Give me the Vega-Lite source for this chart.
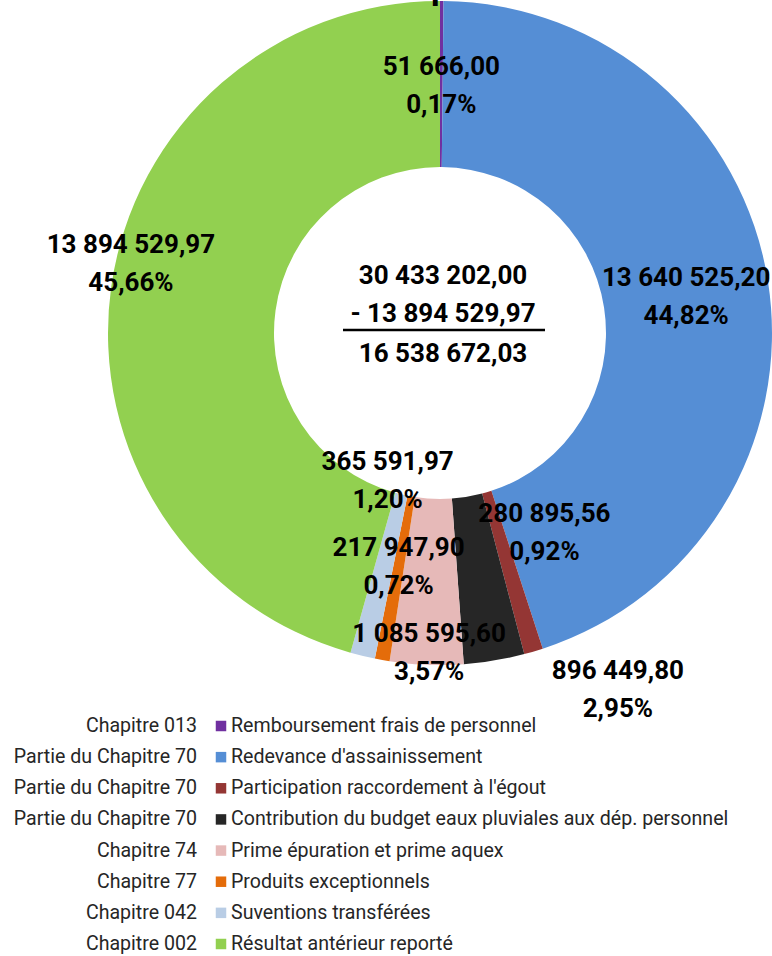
{
  "$schema": "https://vega.github.io/schema/vega-lite/v6.json",
  "width": 772,
  "height": 956,
  "autosize": "none",
  "padding": 0,
  "config": {"view": {"stroke": null}, "font": "Roboto"},
  "datasets": {
    "slices": [
      {"order": 1, "chapter": "Chapitre 013", "category": "Remboursement frais de  personnel", "value": 51666.00, "amount": "51 666,00", "pct": "0,17%"},
      {"order": 2, "chapter": "Partie du Chapitre 70", "category": "Redevance d'assainissement", "value": 13640525.20, "amount": "13 640 525,20", "pct": "44,82%"},
      {"order": 3, "chapter": "Partie du Chapitre 70", "category": "Participation raccordement à l'égout", "value": 280895.56, "amount": "280 895,56", "pct": "0,92%"},
      {"order": 4, "chapter": "Partie du Chapitre 70", "category": "Contribution du budget eaux pluviales aux dép. personnel", "value": 896449.80, "amount": "896 449,80", "pct": "2,95%"},
      {"order": 5, "chapter": "Chapitre 74", "category": "Prime épuration et prime aquex", "value": 1085595.60, "amount": "1 085 595,60", "pct": "3,57%"},
      {"order": 6, "chapter": "Chapitre 77", "category": "Produits exceptionnels", "value": 217947.90, "amount": "217 947,90", "pct": "0,72%"},
      {"order": 7, "chapter": "Chapitre 042", "category": "Suventions transférées", "value": 365591.97, "amount": "365 591,97", "pct": "1,20%"},
      {"order": 8, "chapter": "Chapitre 002", "category": "Résultat antérieur reporté", "value": 13894529.97, "amount": "13 894 529,97", "pct": "45,66%"}
    ],
    "notes": [
      {"title": "Recettes d'exploitation", "total": "30 433 202,00", "minus": "- 13 894 529,97", "result": "16 538 672,03"}
    ]
  },
  "resolve": {"scale": {"y": "independent"}},
  "layer": [
    {
      "encoding": {
        "x": {"datum": 440, "type": "quantitative", "scale": {"domain": [0, 772], "nice": false, "zero": false}, "axis": null},
        "y": {"datum": 333, "type": "quantitative", "scale": {"domain": [0, 956], "reverse": true, "nice": false, "zero": false}, "axis": null}
      },
      "layer": [
        {
          "data": {"name": "slices"},
          "transform": [
            {"stack": "value", "groupby": [], "sort": [{"field": "order", "order": "ascending"}], "as": ["v0", "v1"]}
          ],
          "mark": {"type": "arc", "outerRadius": 332, "innerRadius": 166},
          "encoding": {
            "theta": {"field": "v0", "type": "quantitative", "scale": {"domain": [0, 30433202]}},
            "theta2": {"field": "v1"},
            "color": {
              "field": "category", "type": "nominal",
              "scale": {
                "domain": ["Remboursement frais de  personnel", "Redevance d'assainissement", "Participation raccordement à l'égout", "Contribution du budget eaux pluviales aux dép. personnel", "Prime épuration et prime aquex", "Produits exceptionnels", "Suventions transférées", "Résultat antérieur reporté"],
                "range": ["#7030A0", "#558ED5", "#943634", "#262626", "#E6B9B8", "#E46C0A", "#B9CDE5", "#92D050"]
              },
              "legend": null
            }
          }
        },
        {
          "data": {"name": "slices"},
          "transform": [
            {"stack": "value", "groupby": [], "sort": [{"field": "order", "order": "ascending"}], "as": ["v0", "v1"]},
            {"calculate": "(datum.v0 + datum.v1) / 2", "as": "mid"},
            {"calculate": "datum.amount + '\\n' + datum.pct", "as": "lbl"},
            {"filter": "datum.order <= 2"}
          ],
          "mark": {"type": "text", "radius": 249, "dy": -17, "fontSize": 26, "fontWeight": "bold", "lineBreak": "\n", "lineHeight": 38, "align": "center", "baseline": "middle", "color": "#000"},
          "encoding": {"theta": {"field": "mid", "type": "quantitative"}, "text": {"field": "lbl"}}
        },
        {
          "data": {"name": "slices"},
          "transform": [
            {"stack": "value", "groupby": [], "sort": [{"field": "order", "order": "ascending"}], "as": ["v0", "v1"]},
            {"calculate": "(datum.v0 + datum.v1) / 2", "as": "mid"},
            {"calculate": "datum.amount + '\\n' + datum.pct", "as": "lbl"},
            {"filter": "datum.order == 8"}
          ],
          "mark": {"type": "text", "radius": 317, "dx": 5, "dy": -45, "fontSize": 26, "fontWeight": "bold", "lineBreak": "\n", "lineHeight": 38, "align": "center", "baseline": "middle", "color": "#000"},
          "encoding": {"theta": {"field": "mid", "type": "quantitative"}, "text": {"field": "lbl"}}
        },
        {
          "data": {"name": "slices"},
          "transform": [
            {"stack": "value", "groupby": [], "sort": [{"field": "order", "order": "ascending"}], "as": ["v0", "v1"]},
            {"calculate": "(datum.v0 + datum.v1) / 2", "as": "mid"},
            {"calculate": "datum.amount + '\\n' + datum.pct", "as": "lbl"},
            {"filter": "datum.order == 5"}
          ],
          "mark": {"type": "text", "radius": 318, "dx": 2, "dy": -17, "fontSize": 26, "fontWeight": "bold", "lineBreak": "\n", "lineHeight": 38, "align": "center", "baseline": "middle", "color": "#000"},
          "encoding": {"theta": {"field": "mid", "type": "quantitative"}, "text": {"field": "lbl"}}
        },
        {
          "data": {"name": "slices"},
          "transform": [
            {"stack": "value", "groupby": [], "sort": [{"field": "order", "order": "ascending"}], "as": ["v0", "v1"]},
            {"calculate": "(datum.v0 + datum.v1) / 2", "as": "mid"},
            {"calculate": "datum.amount + '\\n' + datum.pct", "as": "lbl"},
            {"filter": "datum.order == 3"}
          ],
          "mark": {"type": "text", "radius": 225, "dx": 41, "dy": -35, "fontSize": 26, "fontWeight": "bold", "lineBreak": "\n", "lineHeight": 38, "align": "center", "baseline": "middle", "color": "#000"},
          "encoding": {"theta": {"field": "mid", "type": "quantitative"}, "text": {"field": "lbl"}}
        },
        {
          "data": {"name": "slices"},
          "transform": [
            {"stack": "value", "groupby": [], "sort": [{"field": "order", "order": "ascending"}], "as": ["v0", "v1"]},
            {"calculate": "(datum.v0 + datum.v1) / 2", "as": "mid"},
            {"calculate": "datum.amount + '\\n' + datum.pct", "as": "lbl"},
            {"filter": "datum.order == 4"}
          ],
          "mark": {"type": "text", "radius": 397, "dx": 113, "dy": -54, "fontSize": 26, "fontWeight": "bold", "lineBreak": "\n", "lineHeight": 38, "align": "center", "baseline": "middle", "color": "#000"},
          "encoding": {"theta": {"field": "mid", "type": "quantitative"}, "text": {"field": "lbl"}}
        },
        {
          "data": {"name": "slices"},
          "transform": [
            {"stack": "value", "groupby": [], "sort": [{"field": "order", "order": "ascending"}], "as": ["v0", "v1"]},
            {"calculate": "(datum.v0 + datum.v1) / 2", "as": "mid"},
            {"calculate": "datum.amount + '\\n' + datum.pct", "as": "lbl"},
            {"filter": "datum.order == 6"}
          ],
          "mark": {"type": "text", "radius": 238, "dy": -19, "fontSize": 26, "fontWeight": "bold", "lineBreak": "\n", "lineHeight": 38, "align": "center", "baseline": "middle", "color": "#000"},
          "encoding": {"theta": {"field": "mid", "type": "quantitative"}, "text": {"field": "lbl"}}
        },
        {
          "data": {"name": "slices"},
          "transform": [
            {"stack": "value", "groupby": [], "sort": [{"field": "order", "order": "ascending"}], "as": ["v0", "v1"]},
            {"calculate": "(datum.v0 + datum.v1) / 2", "as": "mid"},
            {"calculate": "datum.amount + '\\n' + datum.pct", "as": "lbl"},
            {"filter": "datum.order == 7"}
          ],
          "mark": {"type": "text", "radius": 156, "dx": -16, "dy": -23, "fontSize": 26, "fontWeight": "bold", "lineBreak": "\n", "lineHeight": 38, "align": "center", "baseline": "middle", "color": "#000"},
          "encoding": {"theta": {"field": "mid", "type": "quantitative"}, "text": {"field": "lbl"}}
        },
        {
          "data": {"name": "notes"},
          "mark": {"type": "text", "fontSize": 26, "fontWeight": "bold", "align": "center", "baseline": "middle", "color": "#000"},
          "encoding": {"x": {"datum": 443, "type": "quantitative"}, "y": {"datum": 276, "type": "quantitative"}, "text": {"field": "total"}}
        },
        {
          "data": {"name": "notes"},
          "mark": {"type": "text", "fontSize": 26, "fontWeight": "bold", "align": "center", "baseline": "middle", "color": "#000"},
          "encoding": {"x": {"datum": 443, "type": "quantitative"}, "y": {"datum": 314, "type": "quantitative"}, "text": {"field": "minus"}}
        },
        {
          "data": {"name": "notes"},
          "mark": {"type": "text", "fontSize": 26, "fontWeight": "bold", "align": "center", "baseline": "middle", "color": "#000"},
          "encoding": {"x": {"datum": 443, "type": "quantitative"}, "y": {"datum": 354, "type": "quantitative"}, "text": {"field": "result"}}
        },
        {
          "data": {"name": "notes"},
          "mark": {"type": "rule", "strokeWidth": 2.5, "color": "#000"},
          "encoding": {"x": {"datum": 343, "type": "quantitative"}, "x2": {"datum": 545}, "y": {"datum": 330, "type": "quantitative"}}
        },
        {
          "data": {"name": "notes"},
          "mark": {"type": "text", "fontSize": 34, "fontWeight": "bold", "align": "center", "baseline": "alphabetic", "color": "#000"},
          "encoding": {"x": {"datum": 402, "type": "quantitative"}, "y": {"datum": -1, "type": "quantitative"}, "text": {"field": "title"}}
        }
      ]
    },
    {
      "data": {"name": "slices"},
      "encoding": {
        "y": {"field": "order", "type": "ordinal", "scale": {"type": "point", "range": [726, 944], "padding": 0}, "axis": null}
      },
      "layer": [
        {
          "mark": {"type": "text", "align": "right", "baseline": "middle", "fontSize": 19.6, "color": "#262626"},
          "encoding": {"x": {"datum": 197, "type": "quantitative"}, "text": {"field": "chapter"}}
        },
        {
          "mark": {"type": "point", "shape": "square", "filled": true, "size": 110, "opacity": 1},
          "encoding": {"x": {"datum": 221, "type": "quantitative"}, "color": {"field": "category", "type": "nominal", "legend": null}}
        },
        {
          "mark": {"type": "text", "align": "left", "baseline": "middle", "fontSize": 19.6, "color": "#262626"},
          "encoding": {"x": {"datum": 231, "type": "quantitative"}, "text": {"field": "category"}}
        }
      ]
    }
  ]
}
